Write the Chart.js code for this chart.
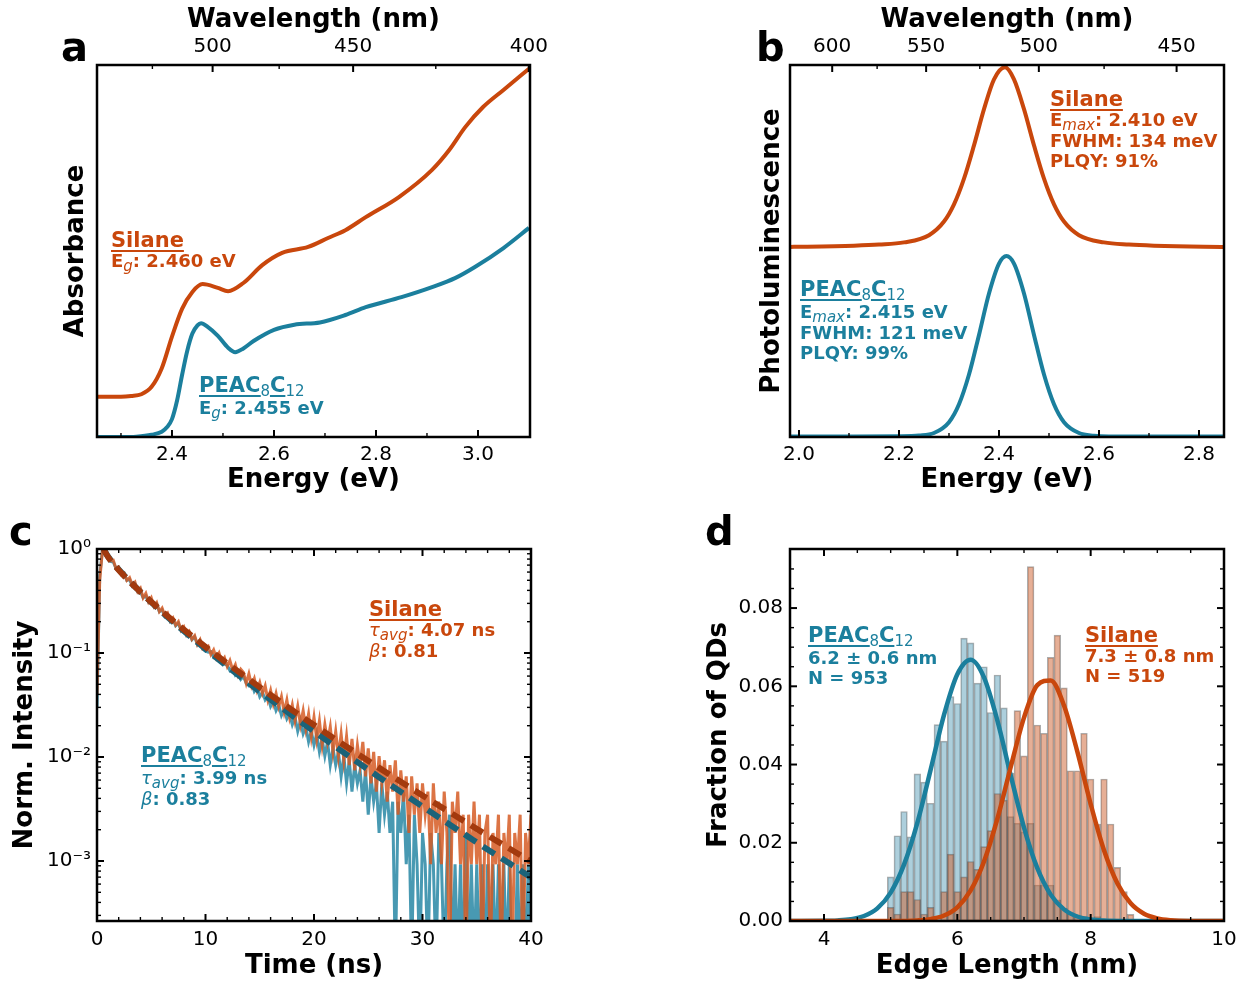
<!DOCTYPE html>
<html><head><meta charset="utf-8">
<script src="https://cdn.jsdelivr.net/npm/chart.js@4.4.1/dist/chart.umd.min.js"></script>
<style>
html,body{margin:0;padding:0;background:#fff;}
#fig{position:relative;width:1245px;height:982px;overflow:hidden;font-family:'DejaVu Sans',sans-serif;}
canvas{position:absolute;z-index:1;}
.lbl{position:absolute;z-index:2;font-weight:bold;font-size:40px;line-height:40px;color:#000;}
.ann{position:absolute;z-index:2;font-weight:bold;font-size:18px;line-height:20px;white-space:nowrap;}
.ann .hd{font-size:21px;line-height:21px;}
.u{text-decoration:underline;text-decoration-thickness:2px;text-underline-offset:3px;}
.sb{font-weight:normal;font-size:15px;position:relative;top:4px;}
.it{font-style:italic;font-weight:normal;}
.orange{color:#c9470c;}
.teal{color:#1b7f9d;}
</style></head>
<body>
<div id="fig">
<canvas id="ca" width="622" height="496" style="left:0;top:0"></canvas>
<canvas id="cb" width="623" height="496" style="left:622px;top:0"></canvas>
<canvas id="cc" width="622" height="486" style="left:0;top:496px"></canvas>
<canvas id="cd" width="623" height="486" style="left:622px;top:496px"></canvas>

<div class="lbl" style="left:61px;top:27px">a</div>
<div class="lbl" style="left:756px;top:27px">b</div>
<div class="lbl" style="left:9px;top:511px">c</div>
<div class="lbl" style="left:705px;top:511px">d</div>

<div class="ann orange" style="left:111px;top:230px"><div class="hd"><span class="u">Silane</span></div><div>E<span class="sb it">g</span>: 2.460 eV</div></div>
<div class="ann teal" style="left:199px;top:375px"><div class="hd"><span class="u">PEAC<span class="sb">8</span>C</span><span class="sb">12</span></div><div>E<span class="sb it">g</span>: 2.455 eV</div></div>

<div class="ann orange" style="left:1050px;top:89px"><div class="hd"><span class="u">Silane</span></div><div>E<span class="sb it">max</span>: 2.410 eV</div><div>FWHM: 134 meV</div><div>PLQY: 91%</div></div>
<div class="ann teal" style="left:800px;top:279px"><div class="hd"><span class="u">PEAC<span class="sb">8</span>C</span><span class="sb">12</span></div><div>E<span class="sb it">max</span>: 2.415 eV</div><div>FWHM: 121 meV</div><div>PLQY: 99%</div></div>

<div class="ann orange" style="left:369px;top:599px"><div class="hd"><span class="u">Silane</span></div><div><span class="it">τ</span><span class="sb it">avg</span>: 4.07 ns</div><div><span class="it">β</span>: 0.81</div></div>
<div class="ann teal" style="left:141px;top:745px"><div class="hd"><span class="u">PEAC<span class="sb">8</span>C</span><span class="sb">12</span></div><div><span class="it">τ</span><span class="sb it">avg</span>: 3.99 ns</div><div><span class="it">β</span>: 0.83</div></div>

<div class="ann teal" style="left:808px;top:625px"><div class="hd"><span class="u">PEAC<span class="sb">8</span>C</span><span class="sb">12</span></div><div>6.2 ± 0.6 nm</div><div>N = 953</div></div>
<div class="ann orange" style="left:1085px;top:625px"><div class="hd"><span class="u">Silane</span></div><div>7.3 ± 0.8 nm</div><div>N = 519</div></div>
</div>

<script>
// ================= DATA =================
// (a) Absorbance
const absSilaneEnergy = [2.25,2.30,2.32,2.34,2.36,2.38,2.40,2.42,2.44,2.46,2.49,2.51,2.54,2.577,2.616,2.667,2.706,2.74,2.78,2.845,2.91,2.944,2.975,3.01,3.05,3.10];
const absSilane       = [0.108,0.108,0.110,0.115,0.135,0.185,0.270,0.345,0.390,0.411,0.401,0.392,0.414,0.462,0.495,0.511,0.535,0.556,0.591,0.645,0.718,0.772,0.833,0.887,0.933,0.990];
const absPeacEnergy   = [2.25,2.30,2.33,2.36,2.38,2.39,2.40,2.41,2.42,2.43,2.44,2.45,2.457,2.47,2.49,2.51,2.524,2.54,2.56,2.60,2.64,2.69,2.74,2.78,2.85,2.91,2.955,2.994,3.05,3.10];
const absPeac         = [0.000,0.000,0.001,0.006,0.014,0.026,0.048,0.098,0.168,0.232,0.278,0.300,0.306,0.296,0.272,0.240,0.228,0.238,0.258,0.288,0.302,0.308,0.328,0.349,0.376,0.403,0.427,0.457,0.508,0.562];
const aEnergyTicks = [2.4,2.6,2.8,3.0];
const aEnergyLabels = ['2.4','2.6','2.8','3.0'];
const aEnergyMinor = [2.3,2.5,2.7,2.9];
const aWavelengthTicks = [500,450,400];
const aWavelengthMinor = [525,475,425];

// (b) Photoluminescence (normalised)
const plSilaneEnergy = [1.98,2.01,2.11,2.16,2.21,2.26,2.29,2.31,2.33,2.35,2.37,2.39,2.412,2.43,2.45,2.47,2.49,2.51,2.53,2.56,2.61,2.66,2.71,2.81,2.86];
const plSilane       = [0.007,0.008,0.014,0.020,0.032,0.072,0.147,0.242,0.384,0.568,0.768,0.933,1.000,0.933,0.768,0.568,0.384,0.242,0.147,0.072,0.032,0.020,0.014,0.008,0.007];
const plPeacEnergy   = [1.98,2.10,2.20,2.24,2.27,2.30,2.32,2.34,2.36,2.38,2.40,2.415,2.43,2.45,2.47,2.49,2.51,2.53,2.56,2.59,2.62,2.86];
const plPeac         = [0.003,0.003,0.004,0.008,0.022,0.082,0.181,0.345,0.564,0.793,0.958,1.000,0.958,0.793,0.564,0.345,0.181,0.082,0.022,0.007,0.003,0.003];
const plSilaneOffset = 1.043;
const bEnergyTicks = [2.0,2.2,2.4,2.6,2.8];
const bEnergyLabels = ['2.0','2.2','2.4','2.6','2.8'];
const bEnergyMinor = [2.1,2.3,2.5,2.7];
const bWavelengthTicks = [600,550,500,450];
const bWavelengthMinor = [575,525,475];

// (c) TRPL, 0.25 ns bins starting at 0 ns
const trplStart = 0, trplStep = 0.25;
const trplSilane = [
0.04,0.5,0.97,1.0, 0.89,0.77,0.78,0.65, 0.67,0.57,0.59,0.50, 0.53,0.45,0.48,0.39,
0.42,0.34,0.375,0.31, 0.34,0.28,0.305,0.25, 0.27,0.228,0.242,0.204, 0.218,0.186,0.2,0.165,
0.178,0.149,0.161,0.136, 0.147,0.121,0.134,0.109,
0.110,0.116,0.0967,0.107,0.0893,0.100,0.0828,0.0902,
0.0744,0.0846,0.0688,0.0772,0.0614,0.0698,0.0651,0.0512,
0.0632,0.0484,0.0567,0.0437,0.0521,0.0409,0.0484,0.0353,
0.0437,0.0326,0.0409,0.0307,0.0381,0.0270,0.0353,0.0242,
0.0316,0.0223,0.0307,0.0205,0.0279,0.0186,0.0260,0.0158,
0.0242,0.0149,0.0223,0.0130,0.0205,0.0140,0.0195,0.0112,
0.0177,0.0102,0.0167,0.0093,0.0158,0.00837,0.0149,0.00744,
0.0130,0.00837,0.0140,0.00651,0.0121,0.00558,0.0112,0.00465,
0.0102,0.00558,0.0093,0.00372,0.00837,0.00465,0.0093,0.00279,
0.00744,0.00372,0.00651,0.00186,0.00651,0.00279,0.00558,0.00186,
0.00558,0.00279,0.00465,0.00093,0.00558,0.00186,0.00372,0.00093,
0.00465,0.00186,0.0001,0.00372,0.00186,0.00465,0.00093,0.00279,
0.0001,0.00279,0.00093,0.00372,0.00093,0.00279,0.0001,0.00186,
0.00279,0.0001,0.00186,0.00093,0.00279,0.0001,0.00186,0.00093,
0.00279,0.0001,0.00186,0.00093,0.00279,0.0001,0.00186,0.00093,
0.00279];
const trplPeac = [
0.03,0.55,0.98,0.97, 0.86,0.76,0.75,0.65, 0.655,0.57,0.58,0.50, 0.51,0.44,0.46,0.39,
0.39,0.34,0.355,0.31, 0.32,0.28,0.295,0.25, 0.26,0.224,0.236,0.201, 0.211,0.183,0.193,0.165,
0.173,0.149,0.158,0.134, 0.143,0.121,0.131,0.109,
0.104,0.102,0.103,0.0911,0.0949,0.0837,0.0856,0.0781,
0.0763,0.0679,0.0716,0.0614,0.0651,0.0558,0.0595,0.0512,
0.0484,0.0521,0.0428,0.0465,0.0381,0.0419,0.0353,0.0381,
0.0307,0.0344,0.0279,0.0316,0.0251,0.0288,0.0233,0.0260,
0.0205,0.0242,0.0177,0.0223,0.0167,0.0195,0.0140,0.0177,
0.0130,0.0167,0.0112,0.0149,0.0102,0.0140,0.00837,0.0121,
0.00837,0.0112,0.00651,0.0102,0.00558,0.0093,0.00465,0.00837,
0.00558,0.00744,0.00372,0.00744,0.00279,0.00651,0.00372,0.00558,
0.00186,0.00558,0.00279,0.00465,0.00186,0.00372,0.0001,0.00372,
0.00186,0.00465,0.00093,0.00279,0.0001,0.00279,0.00093,0.0001,
0.00186,0.00093,0.0001,0.00186,0.00093,0.0001,0.00186,0.00093,
0.0001,0.00093,0.00279,0.0001,0.00093,0.0001,0.00093,0.0001,
0.00186,0.0001,0.00093,0.0001,0.00093,0.0001,0.00093,0.0001,
0.00093,0.0001,0.00093,0.0001,0.00093,0.0001,0.00093,0.0001,
0.00093,0.0001,0.0001,0.00093,0.0001,0.00093,0.0001,0.00093,
0.0001];
const trplFitTime = [0.6,1,2,4,6,8,10,12,14,16,18,20,22,24,26,28,30,32,34,36,38,40];
const trplSilaneFit = [1,0.845,0.629,0.3865,0.2509,0.1679,0.1146,0.0795,0.0558,0.0395,0.0282,0.0203,0.0147,0.01073,0.00786,0.00578,0.00427,0.00317,0.00236,0.00176,0.00132,0.00099];
const trplPeacFit   = [1,0.851,0.634,0.3862,0.2474,0.1629,0.1094,0.0745,0.0513,0.0357,0.0250,0.01764,0.01252,0.00893,0.00640,0.00462,0.00334,0.00243,0.00177,0.00129,0.00095,0.000696];
const cTimeTicks = [0,10,20,30,40];
const cTimeLabels = ['0','10','20','30','40'];
const cTimeMinor = [2,4,6,8,12,14,16,18,22,24,26,28,32,34,36,38];
const cIntTicks = [1,0.1,0.01,0.001];
const cIntLabels = ['10⁰','10⁻¹','10⁻²','10⁻³'];
const cIntMinor = [0.0003,0.0004,0.0005,0.0006,0.0007,0.0008,0.0009,0.002,0.003,0.004,0.005,0.006,0.007,0.008,0.009,0.02,0.03,0.04,0.05,0.06,0.07,0.08,0.09,0.2,0.3,0.4,0.5,0.6,0.7,0.8,0.9];

// (d) Edge length histograms (bin width 0.1 nm)
const edgeBins = [5.0,5.1,5.2,5.3,5.4,5.5,5.6,5.7,5.8,5.9,6.0,6.1,6.2,6.3,6.4,6.5,6.6,6.7,6.8,6.9,7.0,7.1,7.2,7.3,7.4,7.5,7.6,7.7,7.8,7.9,8.0,8.1,8.2,8.3,8.4,8.5,8.6];
const edgePeac    = [0.0113,0.0218,0.0280,0.0215,0.0376,0.0355,0.0301,0.0502,0.0460,0.0574,0.0556,0.0723,0.0711,0.0608,0.0650,0.0533,0.0629,0.0545,0.0267,0.0250,0.0228,0.0250,0.0092,0.0092,0.0092,0.0054,0.0033,0.0021,0.0011,0.0011,0,0.0011,0,0,0,0,0];
const edgeSilane  = [0.0035,0.0018,0.0075,0.0075,0.0055,0.0018,0.0035,0,0.0075,0.0171,0.0075,0.0113,0.0152,0.0132,0.0190,0.0231,0.0326,0.0309,0.0378,0.0538,0.0422,0.0906,0.0501,0.0480,0.0674,0.0731,0.0596,0.0384,0.0384,0.0480,0.0363,0.0248,0.0363,0.0248,0.0137,0.0075,0.0017];
const gaussPeacX = [3.5,4.0,4.2,4.4,4.6,4.8,5.0,5.2,5.4,5.6,5.8,6.0,6.2,6.4,6.6,6.8,7.0,7.2,7.4,7.6,7.8,8.0,8.2,8.5,9.0,10.0];
const gaussPeacY = [0,0.00004,0.00014,0.00044,0.00127,0.00324,0.00727,0.0144,0.0251,0.0387,0.0527,0.0631,0.0668,0.0623,0.0513,0.0373,0.0239,0.0135,0.00674,0.00297,0.00115,0.00039,0.00012,0.00002,0,0];
const gaussSilaneX = [3.5,5.0,5.4,5.6,5.8,6.0,6.2,6.4,6.6,6.8,7.0,7.2,7.4,7.6,7.8,8.0,8.2,8.4,8.6,8.8,9.0,9.2,9.5,10.0];
const gaussSilaneY = [0,0.00001,0.00015,0.00048,0.00139,0.00351,0.0078,0.0152,0.0261,0.0393,0.0520,0.0603,0.0615,0.0551,0.0433,0.0299,0.0181,0.00966,0.00452,0.00186,0.00067,0.00021,0.00003,0];
const dEdgeTicks = [4,6,8,10];
const dEdgeLabels = ['4','6','8','10'];
const dEdgeMinor = [4.5,5,5.5,6.5,7,7.5,8.5,9,9.5];
const dFracTicks = [0,0.02,0.04,0.06,0.08];
const dFracLabels = ['0.00','0.02','0.04','0.06','0.08'];
const dFracMinor = [0.005,0.01,0.015,0.025,0.03,0.035,0.045,0.05,0.055,0.065,0.07,0.075,0.085,0.09];

// ================= STYLE / HELPERS =================
const HC = 1239.84;
const ORANGE = '#c9470c', TEAL = '#1b7f9d';
Chart.defaults.font.family = "'DejaVu Sans', sans-serif";
Chart.defaults.color = '#000';
Chart.defaults.animation = false;
Chart.defaults.plugins.legend.display = false;
Chart.defaults.plugins.tooltip.enabled = false;
Chart.defaults.elements.point.radius = 0;

const xy = (xs, ys, f = v => v) => xs.map((x, i) => ({x: x, y: f(ys[i])}));

function axis(opts) {
  const o = {
    type: opts.type || 'linear', position: opts.position, min: opts.min, max: opts.max, bounds: 'data', offset: false,
    grid: {display: false, drawTicks: false}, border: {display: false},
    ticks: {display: !!opts.values, autoSkip: false, maxRotation: 0, minRotation: 0, padding: opts.pad || 0, font: {size: 20}},
    title: opts.title ? {display: true, text: opts.title, font: {size: 26, weight: 'bold'}, padding: {top: opts.tpad, bottom: 0}} : {display: false},
    afterFit: s => { if (opts.width !== undefined) s.width = opts.width; if (opts.height !== undefined) s.height = opts.height; }
  };
  if (opts.values) {
    o.afterBuildTicks = s => { s.ticks = opts.values.map(v => ({value: v})); };
    o.ticks.callback = (v, i) => opts.labels[i];
  }
  return o;
}

const frameTicks = {
  id: 'frameTicks',
  afterDatasetsDraw(chart, args, opts) {
    const {ctx, chartArea: ca} = chart;
    ctx.save();
    ctx.strokeStyle = '#000';
    (opts.sets || []).forEach(s => {
      const sc = chart.scales[s.scale];
      const len = s.minor ? 4 : 7;
      ctx.lineWidth = s.minor ? 1.4 : 2;
      s.values.forEach(v => {
        const p = sc.getPixelForValue(v);
        s.sides.forEach(side => {
          ctx.beginPath();
          if (side === 'bottom') { ctx.moveTo(p, ca.bottom); ctx.lineTo(p, ca.bottom - len); }
          if (side === 'top') { ctx.moveTo(p, ca.top); ctx.lineTo(p, ca.top + len); }
          if (side === 'left') { ctx.moveTo(ca.left, p); ctx.lineTo(ca.left + len, p); }
          if (side === 'right') { ctx.moveTo(ca.right, p); ctx.lineTo(ca.right - len, p); }
          ctx.stroke();
        });
      });
    });
    ctx.lineWidth = 2.5;
    ctx.strokeRect(ca.left, ca.top, ca.right - ca.left, ca.bottom - ca.top);
    ctx.restore();
  }
};

const lineDs = (data, color, width, extra) => Object.assign({type: 'line', data: data, borderColor: color, borderWidth: width, pointRadius: 0, fill: false, tension: 0}, extra || {});

// ================= (a) =================
new Chart(document.getElementById('ca'), {
  type: 'line',
  data: {datasets: [
    lineDs(xy(absSilaneEnergy, absSilane), ORANGE, 4, {cubicInterpolationMode: 'monotone'}),
    lineDs(xy(absPeacEnergy, absPeac), TEAL, 4, {cubicInterpolationMode: 'monotone'})
  ]},
  options: {
    responsive: false, layout: {padding: {left: 0, right: 92, top: 0, bottom: 0}},
    scales: {
      x: axis({position: 'bottom', min: 2.253, max: 3.102, values: aEnergyTicks, labels: aEnergyLabels, pad: 5.5, title: 'Energy (eV)', tpad: 0.8, height: 59}),
      x2: axis({position: 'top', min: 2.253, max: 3.102, values: aWavelengthTicks.map(w => HC / w), labels: aWavelengthTicks.map(String), pad: 6, title: 'Wavelength (nm)', tpad: 4.5, height: 65}),
      y: axis({position: 'left', min: 0, max: 1.0, title: 'Absorbance', tpad: 61, width: 97})
    },
    plugins: {frameTicks: {sets: [
      {scale: 'x', values: aEnergyTicks, sides: ['bottom']},
      {scale: 'x', values: aEnergyMinor, sides: ['bottom'], minor: true},
      {scale: 'x2', values: aWavelengthTicks.map(w => HC / w), sides: ['top']},
      {scale: 'x2', values: aWavelengthMinor.map(w => HC / w), sides: ['top'], minor: true}
    ]}}
  },
  plugins: [frameTicks]
});

// ================= (b) =================
new Chart(document.getElementById('cb'), {
  type: 'line',
  data: {datasets: [
    lineDs(xy(plSilaneEnergy, plSilane, v => v + plSilaneOffset), ORANGE, 4, {cubicInterpolationMode: 'monotone'}),
    lineDs(xy(plPeacEnergy, plPeac), TEAL, 4, {cubicInterpolationMode: 'monotone'})
  ]},
  options: {
    responsive: false, layout: {padding: {left: 0, right: 21, top: 0, bottom: 0}},
    scales: {
      x: axis({position: 'bottom', min: 1.982, max: 2.85, values: bEnergyTicks, labels: bEnergyLabels, pad: 5.5, title: 'Energy (eV)', tpad: 0.8, height: 59}),
      x2: axis({position: 'top', min: 1.982, max: 2.85, values: bWavelengthTicks.map(w => HC / w), labels: bWavelengthTicks.map(String), pad: 6, title: 'Wavelength (nm)', tpad: 4.5, height: 65}),
      y: axis({position: 'left', min: 0, max: 2.055, title: 'Photoluminescence', tpad: 134.4, width: 168})
    },
    plugins: {frameTicks: {sets: [
      {scale: 'x', values: bEnergyTicks, sides: ['bottom']},
      {scale: 'x', values: bEnergyMinor, sides: ['bottom'], minor: true},
      {scale: 'x2', values: bWavelengthTicks.map(w => HC / w), sides: ['top']},
      {scale: 'x2', values: bWavelengthMinor.map(w => HC / w), sides: ['top'], minor: true}
    ]}}
  },
  plugins: [frameTicks]
});

// ================= (c) =================
const trplTimes = trplSilane.map((_, i) => trplStart + i * trplStep);
new Chart(document.getElementById('cc'), {
  type: 'line',
  data: {datasets: [
    lineDs(xy(trplFitTime, trplSilaneFit), '#a33a0e', 6, {borderDash: [14, 8], cubicInterpolationMode: 'monotone', order: 0}),
    lineDs(xy(trplFitTime, trplPeacFit), '#1b6379', 6, {borderDash: [14, 8], cubicInterpolationMode: 'monotone', order: 1}),
    lineDs(xy(trplTimes, trplSilane), 'rgba(214,92,36,0.85)', 3, {order: 2}),
    lineDs(xy(trplTimes, trplPeac), 'rgba(52,142,170,0.9)', 3, {order: 3})
  ]},
  options: {
    responsive: false, layout: {padding: {left: 0, right: 91, top: 53, bottom: 0}},
    scales: {
      x: axis({position: 'bottom', min: 0, max: 40, values: cTimeTicks, labels: cTimeLabels, pad: 7, title: 'Time (ns)', tpad: 1.4, height: 61}),
      y: axis({type: 'logarithmic', position: 'left', min: 0.000265, max: 1, values: cIntTicks, labels: cIntLabels, pad: 6, title: 'Norm. Intensity', tpad: 10, width: 97})
    },
    plugins: {frameTicks: {sets: [
      {scale: 'x', values: cTimeTicks, sides: ['bottom', 'top']},
      {scale: 'x', values: cTimeMinor, sides: ['bottom', 'top'], minor: true},
      {scale: 'y', values: cIntTicks, sides: ['left', 'right']},
      {scale: 'y', values: cIntMinor, sides: ['left', 'right'], minor: true}
    ]}}
  },
  plugins: [frameTicks]
});

// ================= (d) =================
const barDs = (ys, fill, order) => ({type: 'bar', data: xy(edgeBins, ys), backgroundColor: fill, borderColor: 'rgba(70,70,70,0.45)', borderWidth: 1, borderSkipped: false, barPercentage: 1, categoryPercentage: 1, grouped: false, order: order});
new Chart(document.getElementById('cd'), {
  type: 'bar',
  data: {datasets: [
    lineDs(xy(gaussSilaneX, gaussSilaneY), ORANGE, 4.5, {cubicInterpolationMode: 'monotone', order: 0}),
    lineDs(xy(gaussPeacX, gaussPeacY), TEAL, 4.5, {cubicInterpolationMode: 'monotone', order: 1}),
    barDs(edgeSilane, 'rgba(205,95,45,0.5)', 2),
    barDs(edgePeac, 'rgba(92,160,186,0.5)', 3)
  ]},
  options: {
    responsive: false, layout: {padding: {left: 0, right: 21, top: 53, bottom: 0}},
    scales: {
      x: axis({position: 'bottom', min: 3.49, max: 10.0, values: dEdgeTicks, labels: dEdgeLabels, pad: 7, title: 'Edge Length (nm)', tpad: 1.4, height: 61}),
      y: axis({position: 'left', min: 0, max: 0.0951, values: dFracTicks, labels: dFracLabels, pad: 7, title: 'Fraction of QDs', tpad: 81.4, width: 168})
    },
    plugins: {frameTicks: {sets: [
      {scale: 'x', values: dEdgeTicks, sides: ['bottom', 'top']},
      {scale: 'x', values: dEdgeMinor, sides: ['bottom', 'top'], minor: true},
      {scale: 'y', values: dFracTicks, sides: ['left', 'right']},
      {scale: 'y', values: dFracMinor, sides: ['left', 'right'], minor: true}
    ]}}
  },
  plugins: [frameTicks]
});
</script>
</body></html>
